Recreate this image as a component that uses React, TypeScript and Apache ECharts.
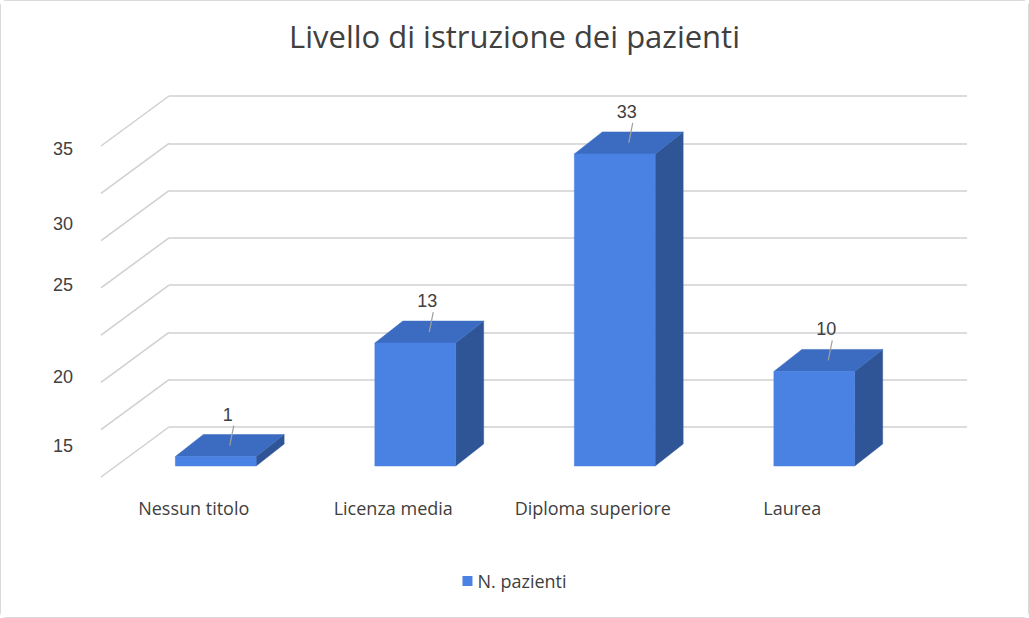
import { useEffect, useRef } from "react";
import * as echarts from "echarts";

const categories = ["Nessun titolo", "Licenza media", "Diploma superiore", "Laurea"];
const values = [1, 13, 33, 10];
const gridTicks = [0, 5, 10, 15, 20, 25, 30, 35];
const yTickLabels = ["15", "20", "25", "30", "35"];
const yTickLabelTops = [447, 378, 286, 225, 150];

const FRONT = "#4a82e3";
const SIDE = "#2f5597";
const TOP = "#3b6cc2";
const GRID = "#d0d0d0";
const INK = "#404040";

// front plane offset from back wall, and bar depth offset
const FDX = -53, FDY = 39;
const DDX = 28, DDY = -22;

export default function App() {
  const ref = useRef<HTMLDivElement | null>(null);
  useEffect(() => {
    if (!ref.current) return;
    const chart = echarts.init(ref.current, undefined, { renderer: "svg" });
    chart.setOption({
      animation: false,
      backgroundColor: "#fff",
      textStyle: { fontFamily: "Open Sans, sans-serif" },
      title: {
        text: "Livello di istruzione dei pazienti",
        left: "center",
        top: 14,
        textStyle: { fontSize: 31, fontWeight: "normal", color: INK },
      },
      legend: {
        bottom: 22,
        itemWidth: 10,
        itemHeight: 10,
        icon: "rect",
        textStyle: { fontSize: 18, color: INK },
        data: [{ name: "N. pazienti", itemStyle: { color: FRONT } }],
      },
      grid: { left: 168, right: 61, top: 95, bottom: 190 },
      xAxis: {
        type: "category",
        data: categories,
        axisLine: { show: false },
        axisTick: { show: false },
        axisLabel: { interval: 0, fontSize: 18, color: INK, margin: 72, padding: [0, 150, 0, 0] },
      },
      yAxis: {
        type: "value",
        min: 0,
        max: 35,
        interval: 5,
        axisLabel: { show: false },
        splitLine: { lineStyle: { color: GRID, width: 1.5 } },
      },
      graphic: yTickLabels.map((t, i) => ({
        type: "text",
        left: 52,
        top: yTickLabelTops[i] - 11,
        style: { text: t, fontSize: 18, fill: INK, font: "18px Open Sans, sans-serif" },
      })),
      series: [
        {
          type: "custom",
          name: "diag",
          silent: true,
          data: gridTicks.map((t) => [0, t]),
          renderItem: (params: any, api: any) => {
            const p = api.coord([0, api.value(1)]);
            const x0 = params.coordSys.x;
            return {
              type: "line",
              shape: { x1: x0, y1: p[1], x2: x0 - 68, y2: p[1] + 50 },
              style: { stroke: GRID, lineWidth: 1.5 },
            };
          },
        },
        {
          type: "custom",
          name: "N. pazienti",
          data: values.map((v, i) => [i, v]),
          renderItem: (params: any, api: any) => {
            const i = api.value(0);
            const v = api.value(1);
            const base = api.coord([i, 0]);
            const top = api.coord([i, v]);
            const w = api.size([1, 0])[0] * 0.405;
            const xl = base[0] + FDX - w / 2;
            const xr = xl + w;
            const yb = base[1] + FDY;
            const yt = top[1] + FDY;
            const poly = (pts: number[][], fill: string) => ({
              type: "polygon",
              shape: { points: pts },
              style: { fill, stroke: fill, lineWidth: 0.5 },
            });
            const cx = xl + w / 2 + DDX / 2;
            const cy = yt + DDY / 2;
            return {
              type: "group",
              children: [
                poly([[xr, yb], [xr + DDX, yb + DDY], [xr + DDX, yt + DDY], [xr, yt]], SIDE),
                poly([[xl, yt], [xr, yt], [xr + DDX, yt + DDY], [xl + DDX, yt + DDY]], TOP),
                poly([[xl, yb], [xr, yb], [xr, yt], [xl, yt]], FRONT),
                {
                  type: "line",
                  shape: { x1: cx, y1: cy, x2: cx + 4, y2: cy - 20 },
                  style: { stroke: "#a0a0a0", lineWidth: 1.2 },
                },
                {
                  type: "text",
                  x: cx - 2,
                  y: cy - 22,
                  style: {
                    text: String(v),
                    fontSize: 18,
                    fill: INK,
                    align: "center",
                    verticalAlign: "bottom",
                    font: "18px Open Sans, sans-serif",
                  },
                },
              ],
            };
          },
        },
      ],
    });
    return () => chart.dispose();
  }, []);
  return (
    <div
      ref={ref}
      style={{
        position: "absolute",
        left: 0,
        top: 0,
        width: 1029,
        height: 618,
        border: "1px solid #d9d9d9",
        borderRadius: 6,
        boxSizing: "border-box",
      }}
    />
  );
}
